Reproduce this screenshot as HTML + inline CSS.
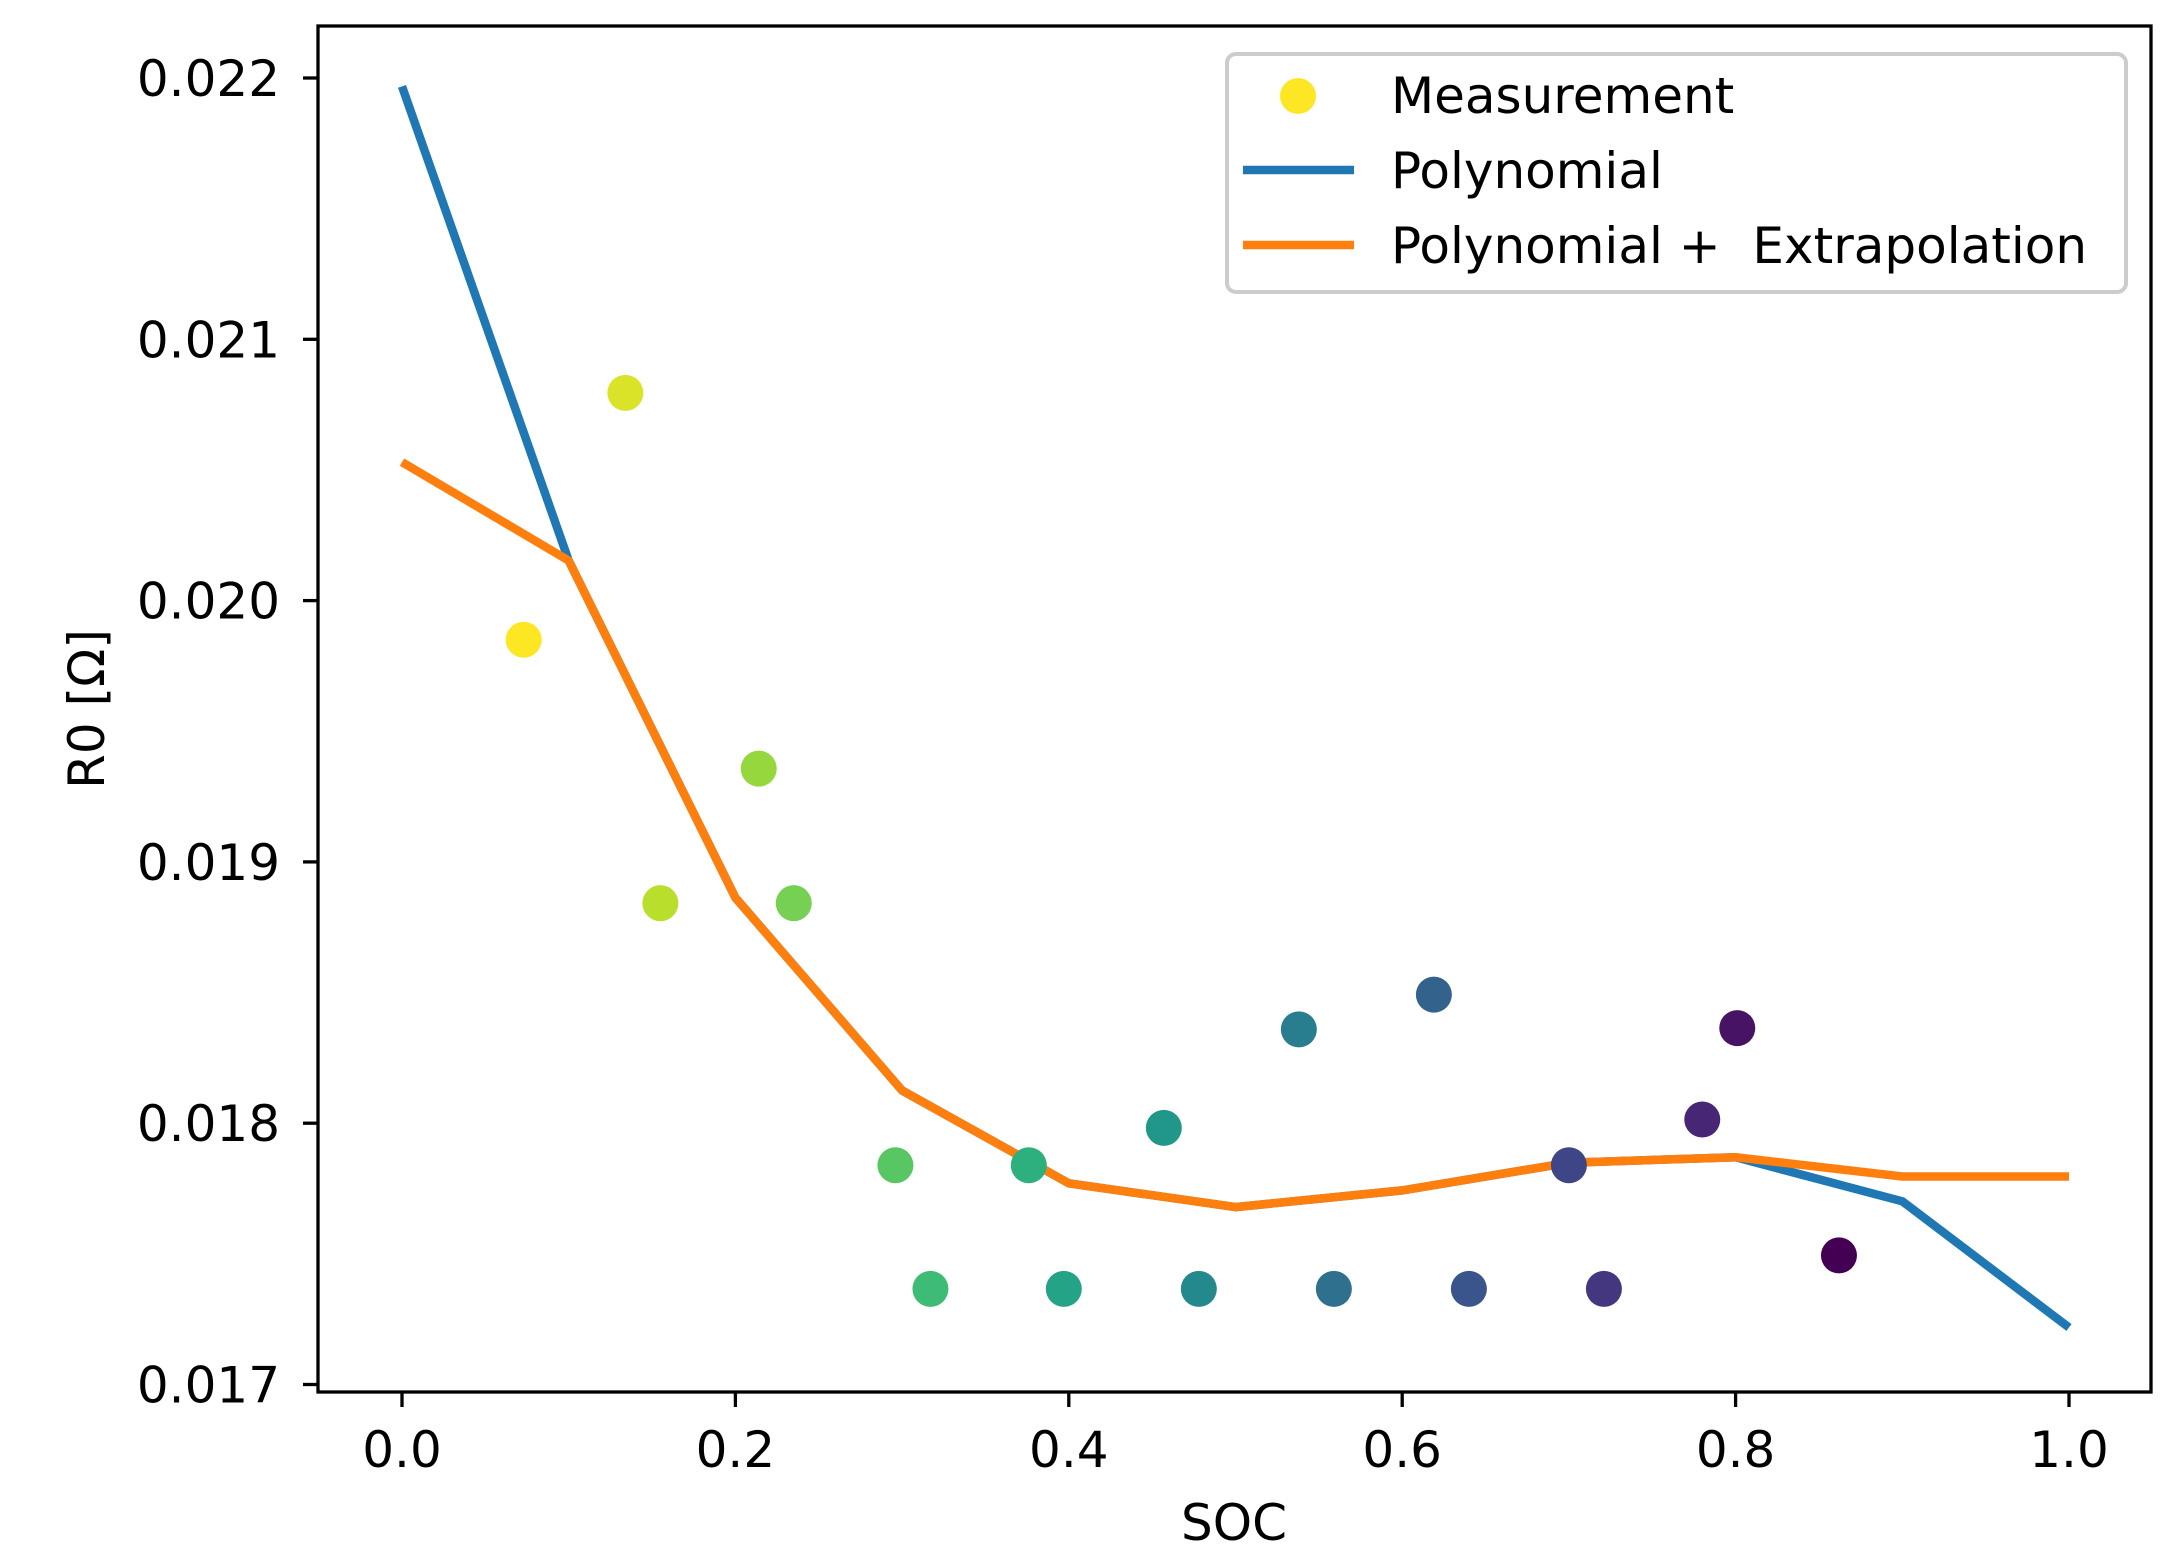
<!DOCTYPE html>
<html><head><meta charset="utf-8"><style>
html,body{margin:0;padding:0;background:#fff}
svg{display:block;font-family:"DejaVu Sans","Liberation Sans",sans-serif}
</style></head><body>
<svg id="chart" width="2179" height="1568" viewBox="0 0 2179 1568" xmlns="http://www.w3.org/2000/svg">
<rect width="2179" height="1568" fill="#fff"/>
<g id="plot"></g>
<g id="axes"></g>
<g id="legend"></g>
</svg>
<script>
const measSoc = [0.073,0.134,0.155,0.214,0.235,0.296,0.317,0.376,0.397,0.457,0.478,0.538,0.559,0.619,0.640,0.700,0.721,0.780,0.801,0.862];
const measR0 = [0.01985,0.020795,0.018842,0.019357,0.018842,0.017839,0.017366,0.017839,0.017366,0.017982,0.017366,0.018359,0.017366,0.018492,0.017366,0.017839,0.017366,0.018014,0.018364,0.017494];
const fitSoc = [0,0.1,0.2,0.3,0.4,0.5,0.6,0.7,0.8,0.9,1.0];
const polyR0 = [0.021968,0.020153,0.018863,0.018125,0.017770,0.017679,0.017743,0.017849,0.017870,0.017701,0.017218];
const extrapR0 = [0.020530,0.020153,0.018863,0.018125,0.017770,0.017679,0.017743,0.017849,0.017870,0.017796,0.017796];
const xTicks = [0,0.2,0.4,0.6,0.8,1.0];
const xTickLabels = ["0.0","0.2","0.4","0.6","0.8","1.0"];
const yTicks = [0.017,0.018,0.019,0.020,0.021,0.022];
const yTickLabels = ["0.017","0.018","0.019","0.020","0.021","0.022"];

const NS="http://www.w3.org/2000/svg";
const X0=318,X1=2151,Y0=26,Y1=1392;
function sx(v){return 402+v*1667;}
function sy(v){return 78+(0.022-v)/0.001*261.3;}
function mk(tag,attrs,parent){const e=document.createElementNS(NS,tag);for(const k in attrs)e.setAttribute(k,attrs[k]);parent.appendChild(e);return e;}
const viridis=[[68,1,84],[72,40,120],[62,74,137],[49,104,142],[38,130,142],[31,158,137],[53,183,121],[110,206,88],[181,222,43],[253,231,37]];
function vir(t){t=Math.max(0,Math.min(1,t));const f=t*9,i=Math.min(8,Math.floor(f)),r=f-i;const a=viridis[i],b=viridis[i+1];return `rgb(${a.map((c,k)=>Math.round(c+(b[k]-c)*r)).join(',')})`;}

const plot=document.getElementById('plot');
const axes=document.getElementById('axes');
const legend=document.getElementById('legend');

function linePath(xs,ys){return xs.map((x,i)=>(i?'L':'M')+sx(x).toFixed(1)+' '+sy(ys[i]).toFixed(1)).join(' ');}
const blue=mk('path',{d:linePath(fitSoc,polyR0),fill:'none',stroke:'#1f77b4','stroke-width':8.5,'stroke-linejoin':'round'},plot);


const orange=mk('path',{d:linePath(fitSoc,extrapR0),fill:'none',stroke:'#ff7f0e','stroke-width':8.5,'stroke-linejoin':'round'},plot);



const n=measSoc.length;
measSoc.forEach((s,i)=>{
  const c=mk('circle',{cx:sx(s),cy:sy(measR0[i]),r:18,fill:vir(1-i/(n-1))},plot);
  
  
});

const frame=mk('rect',{x:X0,y:Y0,width:X1-X0,height:Y1-Y0,fill:'none',stroke:'#000','stroke-width':3.3},axes);



xTicks.forEach((v,i)=>{
  const x=sx(v);
  mk('line',{x1:x,x2:x,y1:Y1,y2:Y1+15,stroke:'#000','stroke-width':3.3},axes);
  const t=mk('text',{x:x,y:1467,'font-size':50,'text-anchor':'middle',fill:'#000'},axes);
  t.textContent=xTickLabels[i];
  
  
});
yTicks.forEach((v,i)=>{
  const y=sy(v);
  mk('line',{x1:X0-15,x2:X0,y1:y,y2:y,stroke:'#000','stroke-width':3.3},axes);
  const t=mk('text',{x:280,y:y+18,'font-size':50,'text-anchor':'end',fill:'#000'},axes);
  t.textContent=yTickLabels[i];
  
  
});
const xt=mk('text',{x:1234,y:1540,'font-size':50,'text-anchor':'middle',fill:'#000'},axes);
xt.textContent='SOC';


const yt=mk('text',{x:0,y:0,'font-size':50,'text-anchor':'middle',fill:'#000',transform:'translate(104,709) rotate(-90)'},axes);
yt.textContent='R0 [Ω]';



const box=mk('rect',{x:1227,y:54,width:899,height:238,rx:9,fill:'#fff','fill-opacity':0.8,stroke:'#cccccc','stroke-width':4},legend);


const lm=mk('circle',{cx:1298,cy:96,r:18,fill:'#fde725'},legend);


mk('line',{x1:1243,x2:1354,y1:170,y2:170,stroke:'#1f77b4','stroke-width':8.5},legend);
mk('line',{x1:1243,x2:1354,y1:245,y2:245,stroke:'#ff7f0e','stroke-width':8.5},legend);
[['Measurement',113,'legend-entry-measurement'],['Polynomial',188,'legend-entry-polynomial'],['Polynomial +  Extrapolation',263,'legend-entry-extrapolation']].forEach(r=>{
  const t=mk('text',{x:1391,y:r[1],'font-size':50,fill:'#000','xml:space':'preserve'},legend);
  t.style.whiteSpace='pre';
  t.textContent=r[0];
  
  
});
</script>
</body></html>
